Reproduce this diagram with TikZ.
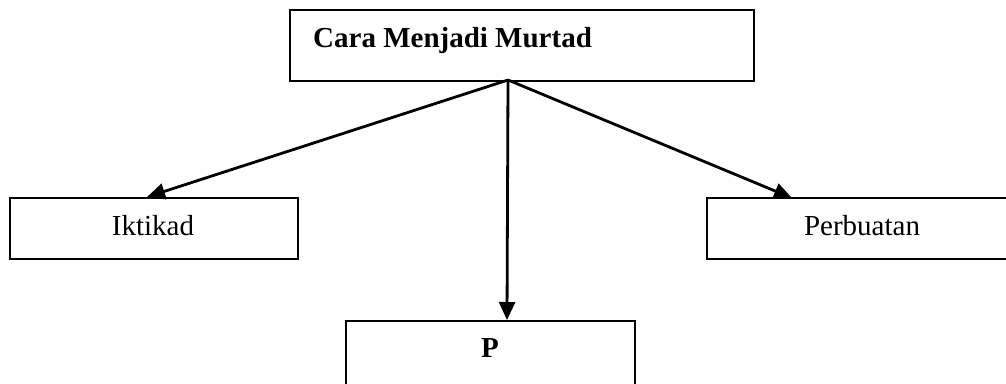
\documentclass[tikz,border=0pt]{standalone}
\usepackage{fontspec}
\setmainfont{Liberation Serif}
\usetikzlibrary{arrows.meta,calc}
\begin{document}
\begin{tikzpicture}[x=1pt,y=-1pt,
  box/.style={draw,line width=2.2pt,rectangle,inner sep=0pt,anchor=north west},
  lbl/.style={inner sep=0pt,anchor=base,font=\fontsize{29}{34}\selectfont},
  arr/.style={line width=2.8pt,-{Triangle[length=18pt,width=16pt]}}]
\clip (0,0) rectangle (1006,383);
\fill[white] (0,0) rectangle (1006,383);
\node[box,minimum width=464pt,minimum height=71pt] (top) at (289,9) {};
\node[box,minimum width=288pt,minimum height=61pt] (ikt) at (9,197) {};
\node[box,minimum width=310pt,minimum height=61pt] (perb) at (706,197) {};
\node[box,minimum width=289pt,minimum height=80pt] (pbox) at (345,320) {};
\node[lbl,anchor=base west,font=\fontsize{29}{34}\selectfont\bfseries] (toptext) at (313,47) {Cara Menjadi Murtad};
\node[lbl] (ikttext) at (153,235) {Iktikad};
\node[lbl] (perbtext) at (862,235) {Perbuatan};
\node[lbl,font=\fontsize{29}{34}\selectfont\bfseries] (ptext) at (490,357) {P};
\coordinate (apex) at (508,80);
\coordinate (iktin) at ($(ikt.north west)+(138,0)$);
\coordinate (perbin) at ($(perb.north west)+(86,1)$);
\coordinate (pin) at ($(pbox.north west)+(162,0)$);
\draw[arr] (apex) -- (iktin);
\draw[arr] (apex) -- (pin);
\draw[arr] (apex) -- (perbin);
\end{tikzpicture}
\end{document}
